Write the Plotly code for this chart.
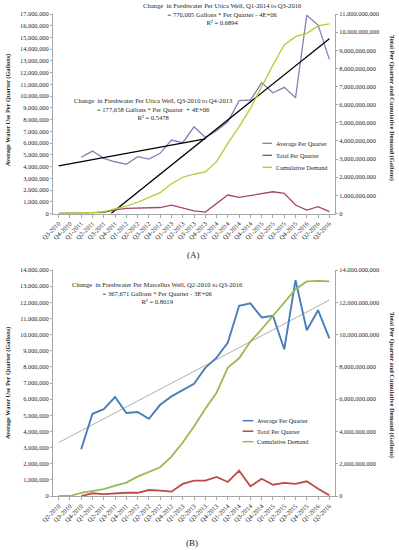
import plotly.graph_objects as go

# ---------------- DATA ----------------
CATS_A = ["Q3-2010", "Q4-2010", "Q1-2011", "Q2-2011", "Q3-2011", "Q4-2011",
          "Q1-2012", "Q2-2012", "Q3-2012", "Q4-2012", "Q1-2013", "Q2-2013",
          "Q3-2013", "Q4-2013", "Q1-2014", "Q2-2014", "Q3-2014", "Q4-2014",
          "Q1-2015", "Q2-2015", "Q3-2015", "Q4-2015", "Q1-2016", "Q2-2016",
          "Q3-2016"]
A_AVG = [None, None, 4790000, 5320000, 4700000, 4410000, 4190000, 4840000,
         4640000, 5130000, 6260000, 6030000, 7390000, 6490000, 7050000,
         7820000, 9610000, 9670000, 11140000, 10290000, 10750000, 9860000,
         16900000, 16060000, 13130000]
A_TOTAL = [0, 0, 1e7, 3e7, 7e7, 2.0e8, 2.8e8, 3.0e8, 3.3e8, 3.3e8, 4.6e8,
           3.0e8, 1.5e8, 8e7, 5.6e8, 1.02e9, 8.9e8, 9.8e8, 1.11e9, 1.20e9,
           1.11e9, 4.7e8, 1.9e8, 3.8e8, 1.0e8]
A_CUM = [0, 5e6, 1.5e7, 4e7, 1.0e8, 2.5e8, 4.0e8, 6.2e8, 8.8e8, 1.15e9,
         1.64e9, 2.00e9, 2.17e9, 2.29e9, 2.86e9, 3.87e9, 4.79e9, 5.80e9,
         6.99e9, 8.19e9, 9.29e9, 9.75e9, 9.93e9, 10.34e9, 10.45e9]
# trend 1: Q3-2010..Q4-2013, trend 2: Q1-2014..Q3-2016 (fitted lines)
TREND_A1_INTERCEPT = 4050000
TREND_A1_SLOPE = 177658
TREND_A1_END = 13
TREND_A2_SLOPE = 770005
TREND_A2_END_VALUE = 14900000

CATS_B = ["Q2-2010", "Q3-2010", "Q4-2010", "Q1-2011", "Q2-2011", "Q3-2011",
          "Q4-2011", "Q1-2012", "Q2-2012", "Q3-2012", "Q4-2012", "Q1-2013",
          "Q2-2013", "Q3-2013", "Q4-2013", "Q1-2014", "Q2-2014", "Q3-2014",
          "Q4-2014", "Q1-2015", "Q2-2015", "Q3-2015", "Q4-2015", "Q1-2016",
          "Q2-2016"]
B_AVG = [None, None, 2900000, 5090000, 5380000, 6130000, 5140000, 5200000,
         4780000, 5650000, 6170000, 6580000, 6950000, 7940000, 8570000,
         9500000, 11780000, 11930000, 11060000, 11160000, 9090000, 13370000,
         10270000, 11510000, 9770000]
B_TOTAL = [None, None, 0, 1.7e8, 1.2e8, 1.7e8, 2.0e8, 2.0e8, 3.7e8, 3.3e8,
           2.7e8, 7.5e8, 9.5e8, 9.5e8, 1.18e9, 8.7e8, 1.57e9, 6.0e8, 1.07e9,
           7.0e8, 8.1e8, 7.5e8, 9.1e8, 4.5e8, 4e7]
B_CUM = [0, 0, 2.0e8, 3.3e8, 4.3e8, 6.4e8, 8.3e8, 1.20e9, 1.51e9, 1.78e9,
         2.44e9, 3.31e9, 4.30e9, 5.40e9, 6.40e9, 7.95e9, 8.53e9, 9.57e9,
         10.33e9, 11.16e9, 11.93e9, 12.81e9, 13.29e9, 13.33e9, 13.30e9]
TREND_B_INTERCEPT = 3310000
TREND_B_SLOPE = 367671

SERIES_NAMES = ["Average Per Quarter", "Total Per Quarter", "Cumulative Demand"]

# ---------------- STYLE ----------------
FONT = "Liberation Serif"
TXT = "#262626"
AX = "#A6A6A6"
A_COLORS = ["#8282B6", "#A3456F", "#A8D12C"]
B_COLORS = ["#4A7EBB", "#BE4B48", "#98B954"]

W, H = 399, 550
ML, MR, MT, MB = 53, 64, 14, 54
PW = W - ML - MR
PH = H - MT - MB


def px_x(px):
    return (px - ML) / PW


def px_y(py):
    return (H - MB - py) / PH


IDX_A = list(range(len(CATS_A)))
IDX_B = list(range(len(CATS_B)))

fig = go.Figure()

# Panel A
fig.add_trace(go.Scatter(x=IDX_A, y=A_AVG, mode="lines", name=SERIES_NAMES[0],
                         line=dict(color=A_COLORS[0], width=1.3),
                         xaxis="x", yaxis="y"))
t1x = [0, TREND_A1_END]
t1y = [TREND_A1_INTERCEPT + TREND_A1_SLOPE * v for v in t1x]
fig.add_trace(go.Scatter(x=t1x, y=t1y, mode="lines", line=dict(color="black", width=1.3),
                         xaxis="x", yaxis="y", showlegend=False))
last = len(CATS_A) - 1
t2x = [last - TREND_A2_END_VALUE / TREND_A2_SLOPE, last]
t2y = [TREND_A2_END_VALUE - TREND_A2_SLOPE * (last - v) for v in t2x]
fig.add_trace(go.Scatter(x=t2x, y=t2y, mode="lines", line=dict(color="black", width=1.3),
                         xaxis="x", yaxis="y", showlegend=False))
fig.add_trace(go.Scatter(x=IDX_A, y=A_TOTAL, mode="lines", name=SERIES_NAMES[1],
                         line=dict(color=A_COLORS[1], width=1.3),
                         xaxis="x", yaxis="y2"))
fig.add_trace(go.Scatter(x=IDX_A, y=A_CUM, mode="lines", name=SERIES_NAMES[2],
                         line=dict(color=A_COLORS[2], width=1.3),
                         xaxis="x", yaxis="y2"))

# Panel B
tbx = [0, len(CATS_B) - 1]
tby = [TREND_B_INTERCEPT + TREND_B_SLOPE * v for v in tbx]
fig.add_trace(go.Scatter(x=tbx, y=tby, mode="lines", line=dict(color="#A6A6A6", width=0.9),
                         xaxis="x2", yaxis="y3", showlegend=False))
fig.add_trace(go.Scatter(x=IDX_B, y=B_AVG, mode="lines", name=SERIES_NAMES[0],
                         line=dict(color=B_COLORS[0], width=1.9),
                         xaxis="x2", yaxis="y3"))
fig.add_trace(go.Scatter(x=IDX_B, y=B_TOTAL, mode="lines", name=SERIES_NAMES[1],
                         line=dict(color=B_COLORS[1], width=1.8),
                         xaxis="x2", yaxis="y4"))
fig.add_trace(go.Scatter(x=IDX_B, y=B_CUM, mode="lines", name=SERIES_NAMES[2],
                         line=dict(color=B_COLORS[2], width=1.8),
                         xaxis="x2", yaxis="y4"))

tickfont = dict(family=FONT, size=6.4, color=TXT)


def xax(anchor, cats):
    return dict(domain=[0, 1], anchor=anchor, range=[-0.5, len(cats) - 0.5],
                tickmode="array", tickvals=list(range(len(cats))), ticktext=cats,
                tickangle=-45, tickfont=tickfont, showline=True, linecolor=AX,
                linewidth=1, ticks="outside", ticklen=3, tickcolor=AX,
                showgrid=False, zeroline=False, automargin=False, fixedrange=True)


def yax(domain, rng, dtick, anchor, side="left", overlaying=None):
    d = dict(range=rng, dtick=dtick, tick0=0, tickformat=",d", tickfont=tickfont,
             showline=True, linecolor=AX, linewidth=1, ticks="outside",
             ticklen=2, tickcolor=AX, showgrid=False, zeroline=False,
             automargin=False, side=side, anchor=anchor, fixedrange=True)
    if overlaying:
        d["overlaying"] = overlaying
    else:
        d["domain"] = domain
    return d


domA = [px_y(213.5), 1.0]
domB = [0.0, px_y(270)]

fig.update_layout(
    width=W, height=H,
    margin=dict(l=ML, r=MR, t=MT, b=MB, autoexpand=False),
    template="none",
    paper_bgcolor="white", plot_bgcolor="white",
    showlegend=False,
    font=dict(family=FONT, size=6.4, color=TXT),
    xaxis=xax("y", CATS_A),
    yaxis=yax(domA, [0, 17e6], 1e6, "x"),
    yaxis2=yax(None, [0, 11e9], 1e9, "x", side="right", overlaying="y"),
    xaxis2=xax("y3", CATS_B),
    yaxis3=yax(domB, [0, 14e6], 1e6, "x2"),
    yaxis4=yax(None, [0, 14e9], 2e9, "x2", side="right", overlaying="y3"),
)

ann = []
shapes = []


def text(px, py, s, size=6.6, xanchor="center", angle=0, bold=False):
    if bold:
        s = "<b>" + s + "</b>"
    ann.append(dict(x=px_x(px), y=px_y(py), xref="paper", yref="paper", text=s,
                    showarrow=False, xanchor=xanchor, yanchor="middle",
                    textangle=angle, align="center",
                    font=dict(family=FONT, size=size, color=TXT)))


# Trend equations
text(222, 14, "Change  in Freshwater Per Utica Well, Q1-2014 to Q3-2016<br>"
              "= 770,005 Gallons * Per Quarter - 4E+06<br>R² = 0.6894")
text(153, 109, "Change  in Freshwater Per Utica Well, Q3-2010 to Q4-2013<br>"
               "= 177,658 Gallons * Per Quarter  + 4E+06<br>R² = 0.5478")
text(157, 292.5, "Change  in Freshwater Per Marcellus Well, Q2-2010 to Q3-2016<br>"
                 "= 367,671 Gallons * Per Quarter - 3E+06<br>R² = 0.8019")

# Axis titles
text(8, 110, "Average Water Use Per Quarter (Gallons)", size=6.3, angle=-90, bold=True)
text(392, 108, "Total Per Quarter and Cumulative Demand (Gallons)", size=6.4, angle=90, bold=True)
text(8, 383, "Average Water Use Per Quarter (Gallons)", size=6.3, angle=-90, bold=True)
text(392, 385, "Total Per Quarter and Cumulative Demand (Gallons)", size=6.4, angle=90, bold=True)

# Panel labels
text(193, 255, "(A)", size=9)
text(192, 543, "(B)", size=9)

# Manual legends
for k, name in enumerate(SERIES_NAMES):
    y = 143.3 + 12 * k
    shapes.append(dict(type="line", xref="paper", yref="paper",
                       x0=px_x(262.5), x1=px_x(272), y0=px_y(y), y1=px_y(y),
                       line=dict(color=A_COLORS[k], width=1.3)))
    text(273.5, y, name, size=6.2, xanchor="left")
    y = 420.7 + 10.5 * k
    shapes.append(dict(type="line", xref="paper", yref="paper",
                       x0=px_x(242.5), x1=px_x(253.5), y0=px_y(y), y1=px_y(y),
                       line=dict(color=B_COLORS[k], width=1.5)))
    text(254.5, y, name, size=6.2, xanchor="left")

fig.update_layout(annotations=ann, shapes=shapes)

fig.write_html("out.html",
               config={"displayModeBar": False, "staticPlot": True},
               post_script="document.body.style.margin='0';"
                           "document.body.style.overflow='hidden';")
